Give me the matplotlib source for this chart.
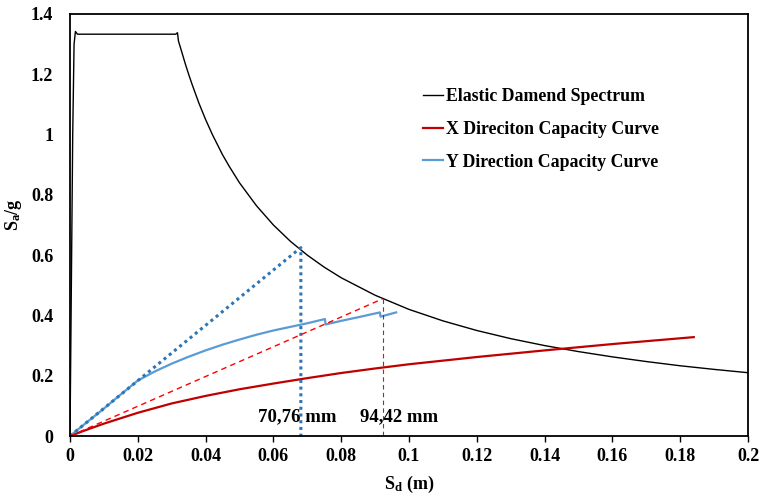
import matplotlib
matplotlib.use("Agg")
import matplotlib.pyplot as plt
from matplotlib.ticker import FuncFormatter, MultipleLocator
from matplotlib.lines import Line2D

plt.rcParams['font.family'] = ['Liberation Serif', 'DejaVu Serif']
plt.rcParams['font.weight'] = 'bold'
plt.rcParams['mathtext.fontset'] = 'custom'
plt.rcParams['mathtext.rm'] = 'Liberation Serif:bold'
plt.rcParams['mathtext.it'] = 'Liberation Serif:bold'
plt.rcParams['mathtext.bf'] = 'Liberation Serif:bold'

# Elastic damped spectrum (Sd in m, Sa/g)
spec_sd = [0, 0.0004, 0.0008, 0.0012, 0.0016, 0.0022, 0.010, 0.020, 0.030, 0.0312, 0.0317,
           0.032, 0.033, 0.034, 0.035, 0.036, 0.038, 0.040, 0.042, 0.045, 0.047, 0.050,
           0.055, 0.060, 0.065, 0.070, 0.075, 0.080, 0.090, 0.100, 0.110, 0.120, 0.130,
           0.140, 0.150, 0.160, 0.170, 0.180, 0.190, 0.200]
spec_sa = [0, 0.50, 1.00, 1.30, 1.342, 1.333, 1.333, 1.333, 1.333, 1.333, 1.338,
           1.31, 1.273, 1.235, 1.20, 1.167, 1.105, 1.05, 1.00, 0.933, 0.894, 0.84,
           0.764, 0.70, 0.646, 0.60, 0.56, 0.525, 0.467, 0.42, 0.382, 0.35, 0.323,
           0.30, 0.28, 0.2625, 0.247, 0.233, 0.221, 0.21]

# X direction capacity curve
x_sd = [0, 0.005, 0.010, 0.020, 0.030, 0.040, 0.050, 0.060, 0.070, 0.080, 0.090,
        0.100, 0.120, 0.140, 0.160, 0.184]
x_sa = [0, 0.021, 0.041, 0.077, 0.108, 0.133, 0.155, 0.174, 0.192, 0.209, 0.224,
        0.238, 0.262, 0.284, 0.305, 0.328]

# Y direction capacity curve
y_sd = [0, 0.005, 0.010, 0.015, 0.020, 0.025, 0.030, 0.035, 0.040, 0.045, 0.050,
        0.055, 0.060, 0.065, 0.070, 0.0752, 0.0754, 0.080, 0.085, 0.0914, 0.0916, 0.0962]
y_sa = [0, 0.046, 0.091, 0.138, 0.184, 0.214, 0.240, 0.263, 0.284, 0.303, 0.320,
        0.336, 0.350, 0.362, 0.374, 0.388, 0.370, 0.382, 0.394, 0.410, 0.396, 0.410]

# Performance point constructions
y_perf_sd = [0, 0.0681, 0.0681]
y_perf_sa = [0, 0.625, 0]
x_perf_sd = [0, 0.0922]
x_perf_sa = [0, 0.455]
x_vert_sd = [0.0922, 0.0922]
x_vert_sa = [0.455, 0]

labels_pp = ["70,76 mm", "94,42 mm"]
legend_labels = ["Elastic Damend Spectrum", "X Direciton Capacity Curve",
                 "Y Direction Capacity Curve"]

fig = plt.figure(figsize=(7.6, 4.98), dpi=100)
ax = fig.add_axes([70/760, 62/498, 678/760, 422/498])

ax.plot(spec_sd, spec_sa, color='black', lw=1.0)
ax.plot(x_sd, x_sa, color='#C00000', lw=1.6)
ax.plot(y_sd, y_sa, color='#5B9BD5', lw=1.6)
ax.plot(y_perf_sd, y_perf_sa, color='#2E75B6', lw=2.2, linestyle=(0, (1, 1.2)))
ax.plot(x_perf_sd, x_perf_sa, color='#FF0000', lw=1.0, linestyle=(0, (4, 3)))
ax.plot(x_vert_sd, x_vert_sa, color='#B22222', lw=0.8, linestyle=(0, (4, 3)))

ax.text((297 - 70) / 3390, (436 - 417) / 301.4, labels_pp[0], ha='center', va='center',
        fontsize=13.5, fontweight='bold')
ax.text((399.5 - 70) / 3390, (436 - 417) / 301.4, labels_pp[1], ha='center', va='center',
        fontsize=13.5, fontweight='bold')

ax.set_xlim(0, 0.2)
ax.set_ylim(0, 1.4)
ax.xaxis.set_major_locator(MultipleLocator(0.02))
ax.yaxis.set_major_locator(MultipleLocator(0.2))
fmt = FuncFormatter(lambda v, p: ('%.2f' % v).rstrip('0').rstrip('.') if abs(v) > 1e-9 else '0')
ax.xaxis.set_major_formatter(fmt)
ax.yaxis.set_major_formatter(fmt)
ax.tick_params(axis='x', direction='out', length=4.3, width=1, pad=4.5, labelsize=13)
ax.tick_params(axis='y', length=0, pad=12, labelsize=13)
for lab in ax.get_xticklabels() + ax.get_yticklabels():
    lab.set_fontweight('bold')
for s in ax.spines.values():
    s.set_linewidth(1.3)
    s.set_color('black')

fig.text(409/760, 1 - 484/498, r'S$_{\mathrm{d}}$ (m)', ha='center', va='center', fontsize=13, fontweight='bold')
fig.text(14/760, 1 - 215/498, r'S$_{\mathrm{a}}$/g', ha='center', va='center', rotation=90,
         fontsize=13, fontweight='bold')

handles = [Line2D([], [], color='black', lw=1.0),
           Line2D([], [], color='#C00000', lw=1.6),
           Line2D([], [], color='#5B9BD5', lw=1.6)]
leg = ax.legend(handles, legend_labels, loc='upper left',
                bbox_to_anchor=((422.5 - 70) / 678, (436 - 88) / 422),
                frameon=False, handlelength=1.14, handletextpad=0.16,
                labelspacing=0.89, borderaxespad=0, borderpad=0,
                prop={'family': 'Liberation Serif', 'weight': 'bold', 'size': 12.8})

fig.savefig('out.png', dpi=100)
